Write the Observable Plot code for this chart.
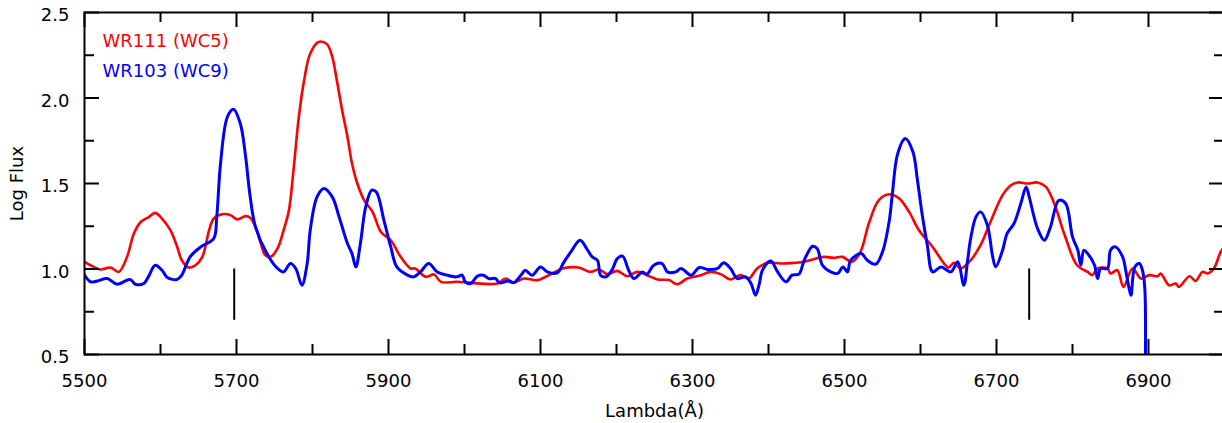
<!DOCTYPE html>
<html>
<head>
<meta charset="utf-8">
<script src="https://cdn.jsdelivr.net/npm/d3@7"></script>
<script src="https://cdn.jsdelivr.net/npm/@observablehq/plot@0.6"></script>
<style>
  html, body { margin: 0; padding: 0; background: #fff; }
  #chart svg { display: block; }
</style>
</head>
<body>
<div id="chart"></div>
<script>
// ---- Data ----
const redLambda = [5500,5508,5521,5534,5545,5556,5565,5574,5585,5593,5602,5613,5622,5628,5637,5646,5655,5664,5670,5681,5692,5701,5712,5718,5725,5732,5738,5745,5754,5762,5769,5775,5782,5789,5797,5808,5819,5826,5832,5839,5846,5852,5859,5868,5879,5890,5903,5916,5929,5935,5949,5960,5969,5990,6008,6043,6054,6065,6078,6096,6115,6129,6150,6166,6177,6188,6201,6214,6227,6240,6254,6269,6280,6293,6311,6324,6337,6350,6363,6374,6385,6399,6416,6434,6447,6458,6473,6486,6497,6510,6521,6532,6545,6559,6572,6585,6598,6616,6631,6637,6644,6653,6666,6679,6692,6708,6719,6728,6741,6754,6765,6776,6789,6806,6820,6826,6833,6846,6850,6859,6867,6879,6890,6901,6912,6916,6927,6936,6940,6954,6962,6971,6978,6986,6995,7000];
const redFlux = [1.042,1.022,0.997,1.009,0.983,1.071,1.208,1.275,1.305,1.328,1.295,1.227,1.129,1.051,1.009,1.022,1.071,1.227,1.295,1.32,1.315,1.29,1.309,1.30,1.246,1.149,1.08,1.071,1.12,1.227,1.344,1.578,1.889,2.104,2.26,2.328,2.315,2.24,2.104,1.929,1.773,1.617,1.5,1.402,1.334,1.217,1.168,1.071,1.003,1.003,0.954,0.968,0.925,0.925,0.919,0.915,0.944,0.92,0.944,0.935,0.974,1.003,1.009,0.983,0.997,0.970,0.989,0.958,0.983,0.964,0.939,0.935,0.911,0.944,0.964,0.983,0.970,0.939,0.964,0.944,1.003,1.036,1.032,1.036,1.042,1.056,1.071,1.065,1.071,1.042,1.10,1.266,1.402,1.437,1.412,1.334,1.227,1.129,1.032,1.009,1.036,1.003,1.051,1.139,1.275,1.432,1.49,1.506,1.5,1.506,1.48,1.383,1.208,1.022,0.983,0.964,1.003,1.003,0.974,0.993,0.895,1.003,0.944,0.964,0.958,0.974,0.905,0.915,0.895,0.958,0.93,0.983,0.974,1.003,1.10,1.13];

const blueLambda = [5500,5508,5517,5530,5543,5560,5567,5578,5584,5593,5602,5609,5622,5628,5639,5653,5670,5674,5679,5688,5696,5705,5712,5718,5725,5740,5754,5762,5771,5778,5786,5793,5797,5806,5815,5826,5835,5846,5852,5857,5863,5870,5878,5884,5894,5903,5911,5925,5933,5942,5953,5964,5977,5990,5997,6001,6008,6017,6025,6032,6041,6046,6057,6065,6076,6080,6089,6100,6109,6122,6131,6140,6152,6162,6168,6175,6179,6186,6194,6201,6208,6216,6223,6234,6240,6249,6260,6267,6278,6285,6298,6309,6320,6333,6341,6350,6359,6370,6377,6383,6388,6392,6403,6412,6423,6431,6440,6447,6458,6464,6471,6482,6491,6498,6504,6508,6522,6530,6541,6550,6559,6563,6570,6580,6590,6596,6602,6609,6616,6627,6640,6649,6657,6662,6666,6673,6679,6688,6695,6699,6708,6714,6723,6732,6739,6743,6754,6763,6771,6782,6791,6800,6807,6811,6815,6820,6829,6833,6837,6846,6850,6856,6866,6870,6875,6877,6882,6888,6892,6895,6896];
const blueFlux = [0.964,0.925,0.93,0.944,0.911,0.939,0.911,0.915,0.954,1.022,0.993,0.95,0.939,0.964,1.071,1.129,1.178,1.305,1.617,1.889,1.934,1.851,1.656,1.422,1.246,1.09,1.003,0.983,1.032,1.003,0.905,1.032,1.227,1.422,1.471,1.422,1.305,1.149,1.09,1.012,1.149,1.363,1.461,1.45,1.285,1.129,1.012,0.964,0.954,0.983,1.032,0.983,0.964,0.954,0.964,0.925,0.915,0.958,0.964,0.944,0.944,0.919,0.93,0.92,0.974,0.993,0.964,1.012,0.983,0.977,1.042,1.10,1.168,1.11,1.071,1.051,0.964,0.954,0.993,1.061,1.075,0.993,0.944,0.983,0.97,1.022,1.032,0.983,0.983,1.003,0.964,1.009,0.997,1.003,1.036,1.003,0.944,0.954,0.915,0.847,0.915,0.993,1.047,0.983,0.925,0.964,0.97,1.051,1.133,1.12,1.022,0.983,0.974,1.012,0.983,1.051,1.09,1.051,1.028,1.10,1.285,1.441,1.675,1.763,1.685,1.519,1.325,1.139,0.983,1.012,0.983,1.042,0.905,1.051,1.178,1.305,1.334,1.256,1.071,1.012,1.11,1.208,1.266,1.383,1.48,1.422,1.237,1.168,1.246,1.402,1.383,1.188,1.11,1.022,1.11,1.09,1.022,0.944,1.003,1.003,1.11,1.13,1.071,0.993,0.876,0.847,1.012,1.032,0.993,0.895,0.5];

const seriesNames = ["WR111 (WC5)", "WR103 (WC9)"];
const seriesColors = ["#ff0000", "#0000ff"];

const markerLambda = [5697, 6743];
const markerLow = [0.7, 0.7];
const markerHigh = [1.0, 1.0];

const xMajor = [5500, 5700, 5900, 6100, 6300, 6500, 6700, 6900];
const xMinor = [5600, 5800, 6000, 6200, 6400, 6600, 6800];
const yMajor = [0.5, 1.0, 1.5, 2.0, 2.5];
const yMinor = [0.75, 1.25, 1.75, 2.25];

const xLabel = "Lambda(Å)";
const yLabel = "Log Flux";

// ---- Build tables ----
const red = redLambda.map((x, i) => ({x, y: redFlux[i]}));
const blue = blueLambda.map((x, i) => ({x, y: blueFlux[i]}));
const markers = markerLambda.map((x, i) => ({x, y1: markerLow[i], y2: markerHigh[i]}));
const legend = seriesNames.map((name, i) => ({name, color: seriesColors[i], i}));

const W = 1222, H = 423, mL = 84, mT = 12, mB = 69, mR = -2;
const innerH = H - mT - mB;
const innerW = W - mL - mR;
const majorLen = 15, minorLen = 10;

const chart = Plot.plot({
  width: W, height: H,
  marginLeft: mL, marginTop: mT, marginBottom: mB, marginRight: mR,
  x: {domain: [5500, 7000]},
  y: {domain: [0.5, 2.5]},
  style: {fontFamily: "DejaVu Sans", fontSize: "18px", color: "black", background: "white", overflow: "hidden"},
  marks: [
    Plot.line(red, {x: "x", y: "y", stroke: seriesColors[0], strokeWidth: 2.6, curve: "catmull-rom", clip: true}),
    Plot.line(blue, {x: "x", y: "y", stroke: seriesColors[1], strokeWidth: 3, curve: "catmull-rom", clip: true}),
    Plot.ruleX(markers, {x: "x", y1: "y1", y2: "y2", stroke: "black", strokeWidth: 2}),
    // inward ticks
    Plot.tickX(xMajor, {x: d => d, insetTop: innerH - majorLen, stroke: "black", strokeWidth: 2}),
    Plot.tickX(xMinor, {x: d => d, insetTop: innerH - minorLen, stroke: "black", strokeWidth: 2}),
    Plot.tickX(xMajor, {x: d => d, insetBottom: innerH - majorLen, stroke: "black", strokeWidth: 2}),
    Plot.tickX(xMinor, {x: d => d, insetBottom: innerH - minorLen, stroke: "black", strokeWidth: 2}),
    Plot.tickY(yMajor, {y: d => d, insetRight: innerW - majorLen, stroke: "black", strokeWidth: 2}),
    Plot.tickY(yMinor, {y: d => d, insetRight: innerW - minorLen, stroke: "black", strokeWidth: 2}),
    Plot.tickY(yMajor, {y: d => d, insetLeft: innerW - majorLen, stroke: "black", strokeWidth: 2}),
    Plot.tickY(yMinor, {y: d => d, insetLeft: innerW - minorLen, stroke: "black", strokeWidth: 2}),
    Plot.frame({stroke: "black", strokeWidth: 2}),
    Plot.axisX({ticks: xMajor, tickSize: 0, tickPadding: 20, tickFormat: d => String(d), fontSize: 18,
      label: xLabel, labelAnchor: "center", labelArrow: "none", labelOffset: 62}),
    Plot.axisY({ticks: yMajor, tickSize: 0, tickPadding: 15, tickFormat: d => d.toFixed(1), dy: 3, fontSize: 18,
      label: yLabel, labelAnchor: "center", labelArrow: "none", labelOffset: 74}),
    Plot.text(legend, {text: "name", fill: "color", frameAnchor: "top-left", textAnchor: "start",
      lineAnchor: "middle", dx: 18, dy: 29, fontSize: 18,
      filter: d => d.i === 0}),
    Plot.text(legend, {text: "name", fill: "color", frameAnchor: "top-left", textAnchor: "start",
      lineAnchor: "middle", dx: 18, dy: 59, fontSize: 18,
      filter: d => d.i === 1})
  ]
});
document.getElementById("chart").append(chart);
</script>
</body>
</html>
